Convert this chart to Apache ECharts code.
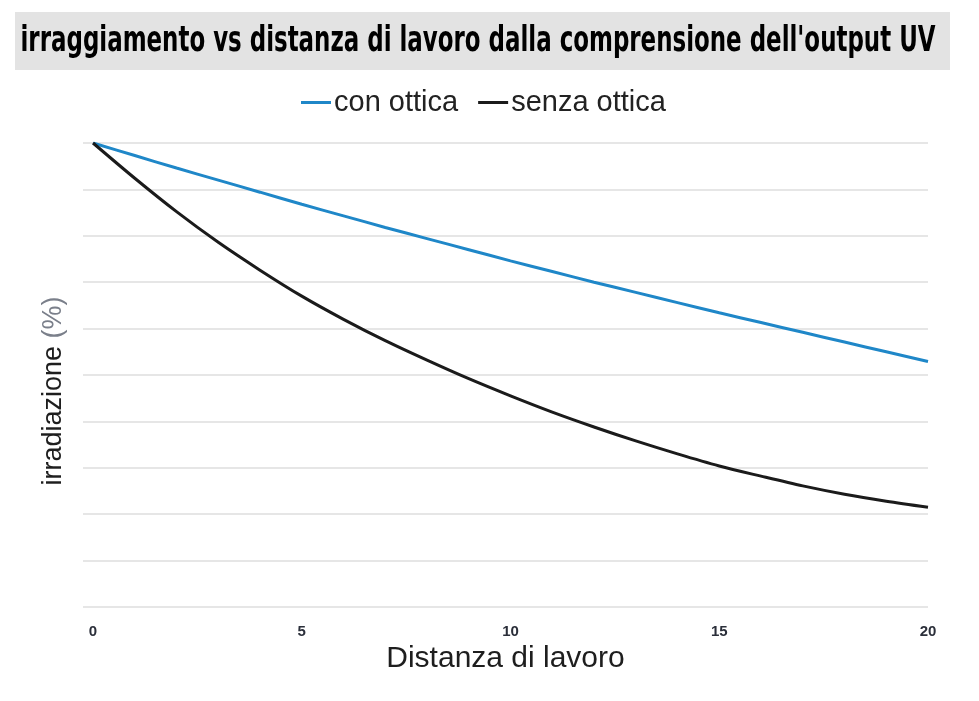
<!DOCTYPE html>
<html><head><meta charset="utf-8">
<script src="https://cdn.jsdelivr.net/npm/echarts@6/dist/echarts.min.js"></script>
<style>html,body{margin:0;padding:0;background:#fff}#c{width:979px;height:701px}</style>
</head><body><div id="c"></div>
<script>
const titleText = "irraggiamento vs distanza di lavoro dalla comprensione dell'output UV";
const seriesNames = ["con ottica", "senza ottica"];
const distances = [0,1,2,3,4,5,6,7,8,9,10,11,12,13,14,15,16,17,18,19,20];
const conOttica = [100,97.3,94.6,92.0,89.4,86.8,84.3,81.8,79.4,77.0,74.6,72.3,70.0,67.8,65.6,63.4,61.3,59.2,57.1,55.0,52.9];
const senzaOttica = [100,92.4,85.2,78.6,72.6,67.0,62.0,57.4,53.2,49.2,45.5,42.0,38.8,35.8,33.0,30.4,28.2,26.1,24.3,22.8,21.5];
const xTicks = [0,5,10,15,20];
const xName = "Distanza di lavoro";
const yName = "irradiazione ";
const yUnit = "(%)";

const titleFont = 'bold 34px "DejaVu Sans Condensed", "DejaVu Sans", sans-serif';
const mctx = document.createElement('canvas').getContext('2d');
mctx.font = titleFont;
const titleW = mctx.measureText(titleText).width;
const titleScale = 915 / titleW;

const chart = echarts.init(document.getElementById('c'), null, {renderer:'canvas'});
const pairs = arr => distances.map((d,i)=>[d,arr[i]]);
chart.setOption({
  animation:false,
  backgroundColor:'#fff',
  graphic:[
    {type:'rect', left:15, top:12, shape:{width:935, height:58}, style:{fill:'#e3e3e3'}},
    {type:'text', x:478, y:42, scaleX:titleScale, scaleY:1.05, originX:0, originY:0,
     style:{text:titleText, fill:'#000', font:titleFont, textAlign:'center', textVerticalAlign:'middle'}}
  ],
  legend:{
    top:83, left:296, itemWidth:30, itemHeight:3, itemGap:20,
    icon:'rect',
    textStyle:{fontSize:29, color:'#222', fontFamily:'"Liberation Sans", Arial, sans-serif', padding:[0,0,0,-2]},
    data:seriesNames
  },
  grid:{left:83, right:51, top:143, bottom:94, containLabel:false},
  xAxis:{
    type:'value', min:-0.24, max:20,
    axisLine:{show:false}, axisTick:{show:false}, splitLine:{show:false},
    axisLabel:{customValues:xTicks, color:'#2b2f3a', fontSize:15, fontWeight:'bold', margin:17,
      fontFamily:'"Liberation Sans Narrow", "Liberation Sans", Arial, sans-serif'},
    name:xName, nameLocation:'middle', nameGap:26,
    nameTextStyle:{fontSize:30, color:'#1e1e1e', fontFamily:'"Liberation Sans", Arial, sans-serif'}
  },
  yAxis:{
    type:'value', min:0, max:100, interval:10,
    axisLine:{show:false}, axisTick:{show:false}, axisLabel:{show:false},
    splitLine:{lineStyle:{color:'#e6e6e6', width:2}},
    name:'{a|'+yName+'}{b|'+yUnit+'}', nameLocation:'middle', nameGap:16, nameRotate:90,
    nameTextStyle:{padding:[0,32,0,0], rich:{
      a:{fontSize:27, color:'#1e1e1e', fontFamily:'"Liberation Sans", Arial, sans-serif'},
      b:{fontSize:27, color:'#7a7f8a', fontFamily:'"Liberation Sans", Arial, sans-serif'}
    }}
  },
  series:[
    {name:seriesNames[0], type:'line', data:pairs(conOttica), smooth:0.3, showSymbol:false,
     lineStyle:{color:'#1f87c8', width:3}, itemStyle:{color:'#1f87c8'}},
    {name:seriesNames[1], type:'line', data:pairs(senzaOttica), smooth:0.3, showSymbol:false,
     lineStyle:{color:'#1b1b1b', width:3}, itemStyle:{color:'#1b1b1b'}}
  ]
});
</script></body></html>
